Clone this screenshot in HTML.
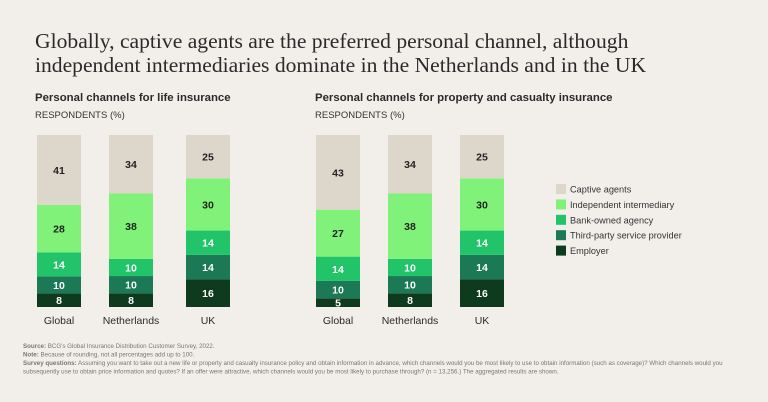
<!DOCTYPE html>
<html><head><meta charset="utf-8"><style>
body{margin:0;background:#f2efeb;font-family:"Liberation Sans",sans-serif;}
svg{display:block}
</style></head><body>
<svg width="768" height="402" viewBox="0 0 768 402">
<rect width="768" height="402" fill="#f2efeb"/>
<text x="35" y="48" font-family="Liberation Serif,serif" font-size="21.6" fill="#2a2a2a">Globally, captive agents are the preferred personal channel, although</text>
<text x="35" y="72" font-family="Liberation Serif,serif" font-size="21.6" fill="#2a2a2a">independent intermediaries dominate in the Netherlands and in the UK</text>
<text x="35" y="101" font-size="11.4" font-weight="bold" fill="#2a2a2a">Personal channels for life insurance</text>
<text x="35" y="118" font-size="9.5" fill="#333">RESPONDENTS (%)</text>
<text x="315" y="101" font-size="11.4" font-weight="bold" fill="#2a2a2a">Personal channels for property and casualty insurance</text>
<text x="315" y="118" font-size="9.5" fill="#333">RESPONDENTS (%)</text>
<g id="bars"></g>
<g id="legend"></g>
<g font-size="6.2" fill="#777">
<text x="23" y="348"><tspan font-weight="bold">Source:</tspan> BCG's Global Insurance Distribution Customer Survey, 2022.</text>
<text x="23" y="356.5"><tspan font-weight="bold">Note:</tspan> Because of rounding, not all percentages add up to 100.</text>
<text x="23" y="365"><tspan font-weight="bold">Survey questions:</tspan> Assuming you want to take out a new life or property and casualty insurance policy and obtain information in advance, which channels would you be most likely to use to obtain information (such as coverage)? Which channels would you</text>
<text x="23" y="373.5">subsequently use to obtain price information and quotes? If an offer were attractive, which channels would you be most likely to purchase through? (n = 13,256.) The aggregated results are shown.</text>
</g>
</svg>
<script>
const categories = ["Global","Netherlands","UK"];
const seriesNames = ["Employer","Third-party service provider","Bank-owned agency","Independent intermediary","Captive agents"];
const lifeEmployer = [8,8,16];
const lifeThirdParty = [10,10,14];
const lifeBank = [14,10,14];
const lifeIndependent = [28,38,30];
const lifeCaptive = [41,34,25];
const pcEmployer = [5,8,16];
const pcThirdParty = [10,10,14];
const pcBank = [14,10,14];
const pcIndependent = [27,38,30];
const pcCaptive = [43,34,25];

const colors = ["#0e3b1d","#1b7a55","#22c46a","#80f27a","#ddd6cb"];
const textCols = ["#fff","#fff","#fff","#222","#222"];
const NS="http://www.w3.org/2000/svg";
const g=document.getElementById('bars');
const bottom=307, fullH=172, barW=44;
function el(t,a){const e=document.createElementNS(NS,t);for(const k in a)e.setAttribute(k,a[k]);return e;}
function drawPanel(series, xs, prefix){
  categories.forEach((c,i)=>{
    const vals=series.map(s=>s[i]);
    const tot=vals.reduce((a,b)=>a+b,0);
    const scale=v=>v/tot*fullH;
    let y=bottom;
    vals.forEach((v,j)=>{
      const h=scale(v);
      const r=el('rect',{x:xs[i],y:y-h,width:barW,height:h,fill:colors[j]});
      
      
      g.appendChild(r);
      const t=el('text',{x:xs[i]+barW/2,y:y-h/2+4,'text-anchor':'middle','font-size':'10.5','font-weight':'bold',fill:textCols[j]});
      t.textContent=v;
      
      
      g.appendChild(t);
      y-=h;
    });
    const l=el('text',{x:xs[i]+barW/2,y:324,'text-anchor':'middle','font-size':'10.5',fill:'#2a2a2a'});
    l.textContent=c;
    
    
    g.appendChild(l);
  });
}
drawPanel([lifeEmployer,lifeThirdParty,lifeBank,lifeIndependent,lifeCaptive],[37,109,186],'life');
drawPanel([pcEmployer,pcThirdParty,pcBank,pcIndependent,pcCaptive],[316,388,460],'pc');
const lg=document.getElementById('legend');
for(let k=0;k<5;k++){
  const j=4-k, y=184+k*15.4;
  const r=el('rect',{x:556,y:y,width:10,height:10,fill:colors[j]});
  
  
  lg.appendChild(r);
  const t=el('text',{x:570,y:y+8.5,'font-size':'9.2',fill:'#333'});
  t.textContent=seriesNames[j];
  
  
  lg.appendChild(t);
}
</script>
</body></html>
